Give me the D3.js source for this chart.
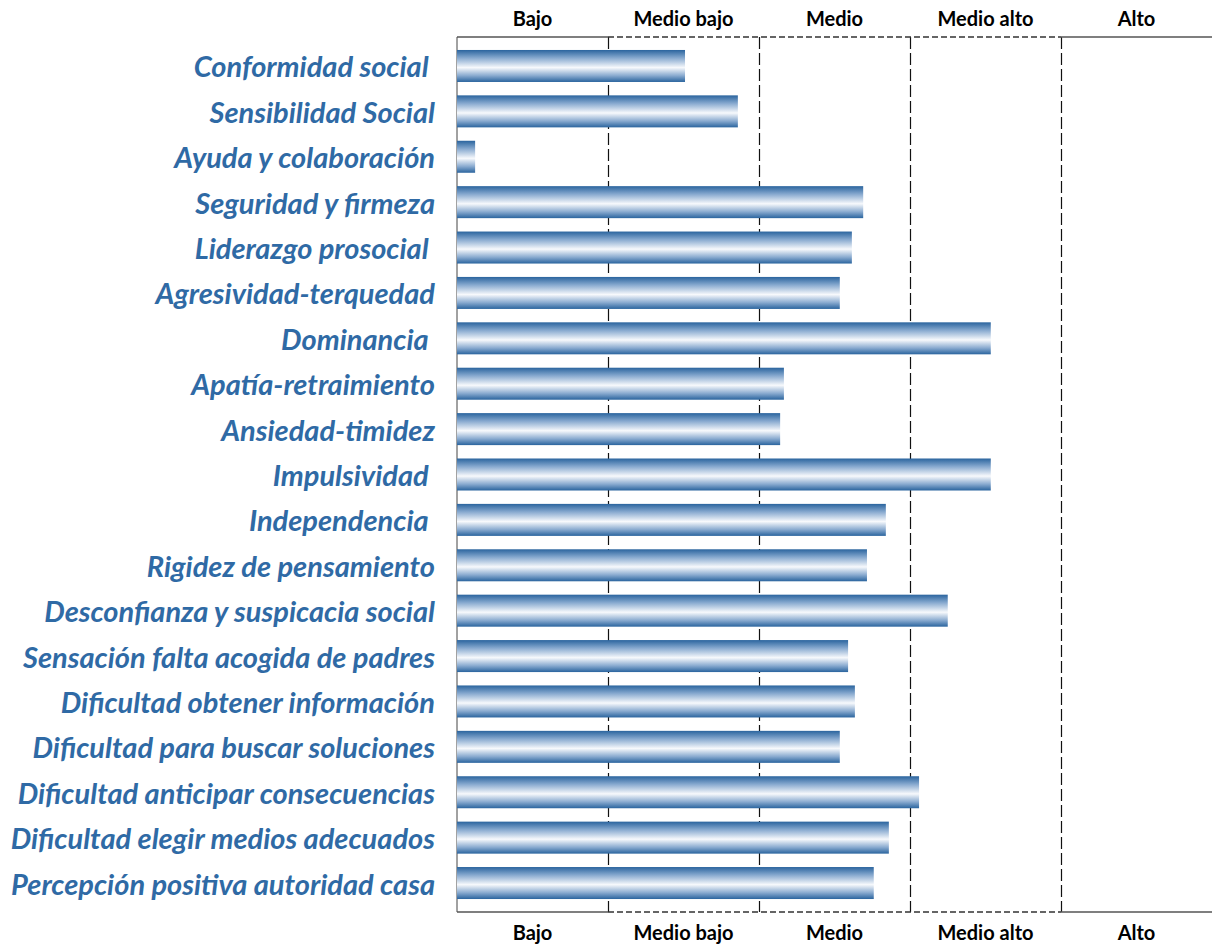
<!DOCTYPE html>
<html><head><meta charset="utf-8">
<script src="https://cdn.jsdelivr.net/npm/d3@7"></script>
<style>body{margin:0;background:#fff}svg{display:block}</style>
</head><body>
<script>
const categories = ["Conformidad social ","Sensibilidad Social","Ayuda y colaboración","Seguridad y firmeza","Liderazgo prosocial ","Agresividad-terquedad","Dominancia ","Apatía-retraimiento","Ansiedad-timidez","Impulsividad ","Independencia ","Rigidez de pensamiento","Desconfianza y suspicacia social","Sensación falta acogida de padres","Dificultad obtener información","Dificultad para buscar soluciones","Dificultad anticipar consecuencias","Dificultad elegir medios adecuados","Percepción positiva autoridad casa"];
const values = [30.2,37.2,2.4,53.8,52.3,50.7,70.7,43.3,42.8,70.7,56.8,54.3,65,51.8,52.7,50.7,61.2,57.2,55.2];
const levels = ["Bajo","Medio bajo","Medio","Medio alto","Alto"];
const levelBounds = [0,20,40,60,80,100];

(function(){
const W=1212,H=947;
const svg=d3.select("body").append("svg").attr("width",W).attr("height",H);
const x=d3.scaleLinear().domain([0,100]).range([457,1212]);
const yTop=37,yBottom=912;
const y=d3.scaleBand().domain(categories).range([43.3,905.7]).paddingInner(0.295).paddingOuter(0.147);

const defs=svg.append("defs");
const g=defs.append("linearGradient").attr("id","bg").attr("x1",0).attr("y1",0).attr("x2",0).attr("y2",1);
[[0,"#2a649e"],[0.25,"#87a9cf"],[0.55,"#f7f9fc"],[0.8,"#8aabd0"],[1,"#2a649e"]].forEach(s=>g.append("stop").attr("offset",s[0]).attr("stop-color",s[1]));

const lines=svg.append("g");
lines.append("line").attr("x1",x(0)).attr("x2",x(0)).attr("y1",yTop).attr("y2",yBottom).attr("stroke","#444").attr("stroke-width",1);
[20,40,60,80].forEach(v=>{
  lines.append("line").attr("x1",x(v)+0.5).attr("x2",x(v)+0.5).attr("y1",yTop).attr("y2",yBottom).attr("stroke","#111").attr("stroke-width",1.2).attr("stroke-dasharray","12,4");
});
[yTop,yBottom].forEach(yy=>{
  lines.append("line").attr("x1",x(0)).attr("x2",x(20)).attr("y1",yy).attr("y2",yy).attr("stroke","#555").attr("stroke-width",1.3);
  lines.append("line").attr("x1",x(20)).attr("x2",x(80)).attr("y1",yy).attr("y2",yy).attr("stroke","#333").attr("stroke-width",1.3).attr("stroke-dasharray","6,3");
  lines.append("line").attr("x1",x(80)).attr("x2",x(100)).attr("y1",yy).attr("y2",yy).attr("stroke","#555").attr("stroke-width",1.3);
});

svg.append("g").selectAll("rect").data(categories).join("rect")
  .attr("x",x(0)).attr("y",d=>y(d)).attr("height",y.bandwidth())
  .attr("width",(d,i)=>x(values[i])-x(0)).attr("fill","url(#bg)");

svg.append("g").selectAll("text").data(categories).join("text")
  .attr("x",435).attr("y",d=>y(d)+y.bandwidth()/2+11.5)
  .attr("text-anchor","end")
  .style("white-space","pre")
  .attr("font-family","Lato, 'Open Sans', sans-serif").attr("font-weight","bold").attr("font-style","italic")
  .attr("font-size",29).attr("fill","#2f6aa5").text(d=>d);

const centers=levels.map((l,i)=>(levelBounds[i]+levelBounds[i+1])/2);
[26,940].forEach(by=>{
  svg.append("g").selectAll("text").data(levels).join("text")
    .attr("x",(d,i)=>x(centers[i])).attr("y",by).attr("text-anchor","middle")
    .attr("font-family","Lato, 'Open Sans', sans-serif").attr("font-weight","bold")
    .attr("font-size",20).attr("fill","#000").text(d=>d);
});
})();
</script>
</body></html>
